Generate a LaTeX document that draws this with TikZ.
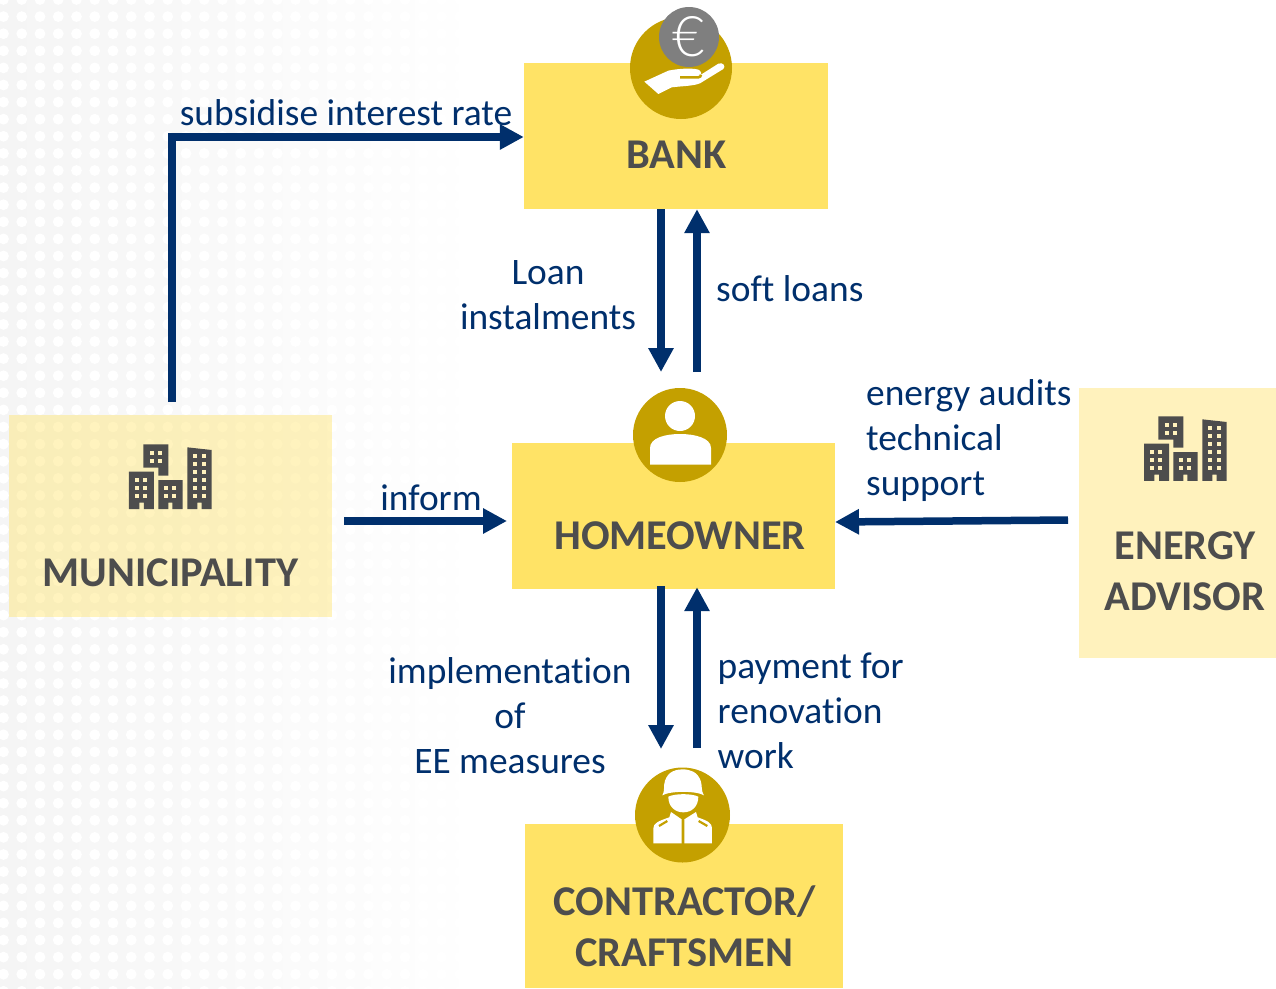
\documentclass[tikz,border=0pt]{standalone}
\usepackage{fontspec}
\setmainfont{Carlito}[Ligatures=NoCommon]
\newfontfamily\eurofont{Lato Light}
\usetikzlibrary{arrows.meta,calc}
\definecolor{navy}{HTML}{002F6C}
\definecolor{boxy}{HTML}{FFE366}
\definecolor{palebox}{HTML}{FFF2BD}
\definecolor{gold}{HTML}{C4A000}
\definecolor{ink}{HTML}{4D4D4D}
\definecolor{coin}{HTML}{7F7F7F}
\definecolor{bgfield}{HTML}{F5F5F5}
\definecolor{bgmid}{HTML}{FAFAFA}
\tikzset{
  flow/.style={draw=navy,line width=7.5pt,-{Triangle[length=24pt,width=24pt]}},
  actor/.style={rectangle,fill=boxy,inner sep=0pt,font=\fontsize{42.4}{51}\selectfont\bfseries,text=ink,align=center},
  paleactor/.style={actor,fill=palebox},
  lab/.style={inner sep=0pt,text=navy,font=\fontsize{37.4}{45}\selectfont},
  badge/.style={circle,fill=gold,inner sep=0pt},
}
\newcommand{\towers}[3]{%
 \begin{scope}[shift={(#1,#2)},x=0.3333pt,y=-0.3333pt]
  \fill[ink] (100,43)--(175,43)--(175,137)--(145,137)--(145,113)--(100,113)--cycle;
  \fill[ink] (57,125)--(132,125)--(132,237)--(102,237)--(102,218)--(88,218)--(88,237)--(57,237)--cycle;
  \fill[ink] (145,150)--(218,150)--(218,237)--(187,237)--(187,218)--(175,218)--(175,237)--(145,237)--cycle;
  \fill[ink] (232,52)--(305,60)--(305,237)--(275,237)--(275,218)--(262,218)--(262,237)--(232,237)--cycle;
  \foreach \cx/\cy in {119/64,143/64,119/88,143/88,
     75/145,100/145,75/168,100/168,75/193,100/193,
     163/168,187/168,163/193,187/193,
     250/72,275/72,250/95,275/95,250/120,275/120,250/145,275/145,250/168,275/168,250/193,275/193}
    \fill[#3] (\cx,\cy) rectangle ++(12,12);
 \end{scope}}
\begin{document}
\begin{tikzpicture}[x=1pt,y=-1pt]
\useasboundingbox (0,0) rectangle (1276,988);
% dotted background
\shade[left color=bgfield,right color=bgmid] (0,0) rectangle (260,988);
\shade[left color=bgmid,right color=white] (260,0) rectangle (480,988);
\foreach \i in {0,...,26}{\foreach \j in {0,...,58}{
  \fill[white] ({3.5+18.25*\i},{-0.5+17.1*\j}) circle (5.4);}}
% actors
\node[actor,minimum width=304pt,minimum height=146pt] (bank) at (676,136) {};
\node[actor,minimum width=323pt,minimum height=146pt] (home) at (673.5,516) {};
\node[actor,minimum width=318pt,minimum height=164pt] (crew) at (684,906) {};
\node[actor,fill opacity=0.42,minimum width=323pt,minimum height=202pt] (muni) at (170.5,516) {};
\node[paleactor,minimum width=197pt,minimum height=270pt] (advisor) at (1177.5,523) {};
% badges
\node[badge,minimum size=102pt] (bankbadge) at (681,68) {};
\node[badge,minimum size=94pt] (homebadge) at (680,435) {};
\node[badge,minimum size=95pt] (crewbadge) at (682.5,815) {};
\node[circle,fill=coin,minimum size=60pt,inner sep=0pt,text=white,font=\eurofont\fontsize{56}{56}\selectfont] (euro) at (689,37) {€};
% hand
\begin{scope}[shift={(600,0)},x=0.3333pt,y=-0.3333pt]
 \fill[white] (133,245)--(205,212) .. controls (240,205) and (270,205) .. (285,207) .. controls (300,208) and (305,215) .. (303,224)
   --(355,191) .. controls (370,185) and (378,200) .. (370,207) --(300,250) .. controls (280,258) and (250,258) .. (215,262)--(175,282)--cycle;
 \draw[gold,line width=2.5pt] (240,232)--(295,232) .. controls (300,232) and (303,228) .. (303,224);
\end{scope}
% person
\fill[white] (680,416) circle (15);
\fill[white] (650,464.5)--(650,448) .. controls (650,438) and (665,434) .. (680,434) .. controls (695,434) and (711,438) .. (711,448)--(711,464.5)--cycle;
% contractor
\begin{scope}[shift={(610,760)},x=0.3333pt,y=-0.3333pt]
 \fill[white] (157,106) .. controls (165,95) and (160,75) .. (165,62) .. controls (175,35) and (195,28) .. (217,28) .. controls (240,28) and (262,35) .. (272,62) .. controls (277,75) and (273,95) .. (282,106) .. controls (260,92) and (180,92) .. (157,106)--cycle;
 \fill[white] (175,110) .. controls (195,100) and (245,100) .. (265,110) .. controls (265,140) and (245,157) .. (220,157) .. controls (195,157) and (175,140) .. (175,110)--cycle;
 \fill[white] (130,250)--(130,205) .. controls (130,190) and (145,183) .. (178,172)--(183,156)--(215,178)--(215,250)--cycle;
 \fill[white] (223,250)--(223,178)--(258,156)--(263,172) .. controls (295,183) and (306,190) .. (306,205)--(306,250)--cycle;
 \draw[gold,line width=2.2pt] (147,198)--(172,183);
 \draw[gold,line width=2.2pt] (292,198)--(266,183);
\end{scope}
% towers
\towers{110}{430}{palebox}
\towers{1125}{402}{palebox}
% actor titles
\node[actor,fill=none] (banktitle) at (676.5,155) {BANK};
\node[actor,fill=none] (hometitle) at (680,536) {HOMEOWNER};
\node[actor,fill=none] (crewtitle) at (684.5,926) {CONTRACTOR/\\CRAFTSMEN};
\node[actor,fill=none] (munititle) at (170.5,573) {MUNICIPALITY};
\node[actor,fill=none] (advtitle) at (1185,571) {ENERGY\\ADVISOR};
% connector ends
\coordinate (muniout) at (172,402);
\coordinate (municorner) at (172,137);
\coordinate (bankin) at (bank.west |- municorner);
\coordinate (bankdown) at (661,372);
\coordinate (bankup) at (697,372);
\coordinate (informout) at (344,521);
\coordinate (informin) at (507,521);
\coordinate (advout) at (1068,520);
\coordinate (advin) at (835,522);
\coordinate (crewdown) at (661,749);
\coordinate (crewup) at (697,748);
% connectors
\draw[flow,line join=miter] (muniout)--(municorner)--(bankin);
\draw[flow] (bank.south -| bankdown)--(bankdown);
\draw[flow] (bankup)--(bank.south -| bankup);
\draw[flow] (informout)--(informin);
\draw[flow] (advout)--(advin);
\draw[flow,shorten <=-3pt] (home.south -| crewdown)--(crewdown);
\draw[flow,shorten >=-2pt] (crewup)--(home.south -| crewup);
% labels
\node[lab] (l1) at (346,113) {subsidise interest rate};
\node[lab,align=center] (l2) at (548,295.5) {Loan\\instalments};
\node[lab,anchor=west] (l3) at (716,289) {soft loans};
\node[lab] (l4) at (431,498) {inform};
\node[lab,anchor=west,align=left] (l5) at (866,440.5) {energy audits\\technical\\support};
\node[lab,align=center] (l6) at (510,716) {implementation\\of\\EE measures};
\node[lab,anchor=west,align=left] (l7) at (717.5,711) {payment for\\renovation\\work};
\end{tikzpicture}
\end{document}
